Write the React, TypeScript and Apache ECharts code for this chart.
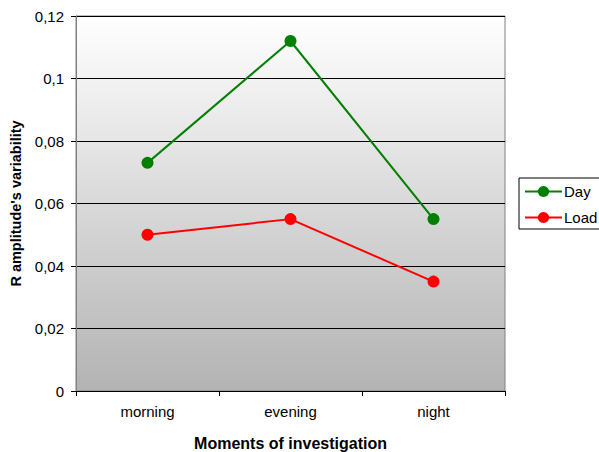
import React, { useEffect, useRef } from "react";
import * as echarts from "echarts";

const categories = ["morning", "evening", "night"];
const dayValues = [0.073, 0.112, 0.055];
const loadValues = [0.05, 0.055, 0.035];
const yTicks = { min: 0, max: 0.12, interval: 0.02 };

export default function App() {
  const ref = useRef<HTMLDivElement>(null);
  useEffect(() => {
    if (!ref.current) return;
    const chart = echarts.init(ref.current, undefined, { renderer: "svg" });
    const font = "Liberation Sans, Arial, sans-serif";
    chart.setOption({
      animation: false,
      textStyle: { fontFamily: font },
      grid: {
        left: 76,
        top: 16,
        right: 94,
        bottom: 61,
        outerBoundsMode: "none",
        containLabel: false,
        show: true,
        borderColor: "#808080",
        borderWidth: 1,
        backgroundColor: new echarts.graphic.LinearGradient(0, 0, 0, 1, [
          { offset: 0, color: "#ffffff" },
          { offset: 1, color: "#b3b3b3" },
        ]),
      },
      legend: {
        orient: "vertical",
        left: 519,
        top: 178,
        padding: [6, 6, 4, 5],
        itemGap: 11,
        borderColor: "#000",
        borderWidth: 1,
        borderRadius: 0,
        itemWidth: 37,
        itemHeight: 14,
        textStyle: { fontFamily: font, fontSize: 15, color: "#000", padding: [0, 0, 0, -3] },
        data: ["Day", "Load"],
      },
      xAxis: {
        type: "category",
        data: categories,
        boundaryGap: true,
        name: "Moments of investigation",
        nameLocation: "middle",
        nameGap: 44,
        nameTextStyle: { fontFamily: font, fontSize: 16, fontWeight: "bold", color: "#000" },
        axisLine: { lineStyle: { color: "#000", width: 1 } },
        axisTick: { show: true, length: 5, lineStyle: { color: "#000" } },
        axisLabel: { fontFamily: font, fontSize: 15, color: "#000", margin: 13 },
      },
      yAxis: {
        type: "value",
        min: yTicks.min,
        max: yTicks.max,
        interval: yTicks.interval,
        name: "R amplitude's variability",
        nameLocation: "middle",
        nameGap: 52,
        nameRotate: 90,
        nameTextStyle: { fontFamily: font, fontSize: 14.5, fontWeight: "bold", color: "#000" },
        axisLine: { show: true, lineStyle: { color: "#808080", width: 1 } },
        axisTick: { show: true, length: 5, lineStyle: { color: "#000" } },
        axisLabel: {
          fontFamily: font,
          fontSize: 15,
          color: "#000",
          margin: 12,
          formatter: (v: number) => String(parseFloat(v.toFixed(2))).replace(".", ","),
        },
        splitLine: { show: true, lineStyle: { color: "#000", width: 1 } },
      },
      series: [
        {
          name: "Day",
          type: "line",
          data: dayValues,
          symbol: "circle",
          symbolSize: 12,
          lineStyle: { color: "#008000", width: 2 },
          itemStyle: { color: "#008000" },
        },
        {
          name: "Load",
          type: "line",
          data: loadValues,
          symbol: "circle",
          symbolSize: 12,
          lineStyle: { color: "#ff0000", width: 2 },
          itemStyle: { color: "#ff0000" },
        },
      ],
    });
    return () => chart.dispose();
  }, []);
  return <div ref={ref} style={{ width: 599, height: 452, position: "absolute", left: 0, top: 0 }} />;
}
